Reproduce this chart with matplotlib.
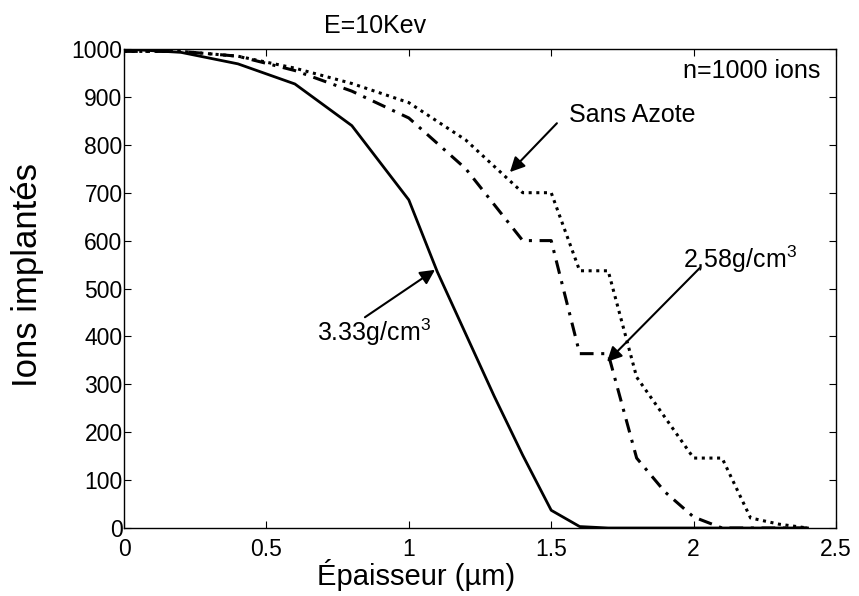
import matplotlib
matplotlib.use("Agg")
import matplotlib.pyplot as plt

plt.rcParams["font.family"] = ["Liberation Sans", "DejaVu Sans"]
plt.rcParams["mathtext.fontset"] = "custom"
plt.rcParams["mathtext.rm"] = "Liberation Sans"
plt.rcParams["mathtext.default"] = "regular"

# -----------------------------
# Data
# -----------------------------
x_333 = [0, 0.2, 0.4, 0.6, 0.8, 1.0, 1.1, 1.2, 1.3, 1.4, 1.5, 1.6, 1.7, 1.8, 2.0, 2.2, 2.4]
y_333 = [1000, 993, 969, 927, 840, 685, 535, 405, 275, 152, 37, 3, 0, 0, 0, 0, 0]

x_sans = [0, 0.2, 0.4, 0.6, 0.8, 1.0, 1.2, 1.4, 1.5, 1.6, 1.7, 1.8, 2.0, 2.1, 2.2, 2.3, 2.4]
y_sans = [995, 995, 985, 960, 928, 888, 810, 700, 700, 537, 537, 315, 146, 146, 21, 8, 0]

x_258 = [0, 0.2, 0.4, 0.6, 0.8, 1.0, 1.2, 1.4, 1.5, 1.6, 1.7, 1.8, 1.9, 2.0, 2.1, 2.2, 2.4]
y_258 = [995, 995, 985, 955, 912, 856, 750, 600, 600, 364, 364, 146, 75, 23, 0, 0, 0]

x_ticks = [0, 0.5, 1, 1.5, 2, 2.5]
x_tick_labels = ["0", "0.5", "1", "1.5", "2", "2.5"]
y_ticks = list(range(0, 1001, 100))

# -----------------------------
# Figure
# -----------------------------
fig = plt.figure(figsize=(8.59, 5.96), dpi=100)
ax = fig.add_axes([124 / 859, 68 / 596, 712 / 859, 479 / 596])

ax.plot(x_333, y_333, color="black", linestyle="-", linewidth=2.0)
ax.plot(x_258, y_258, color="black", linestyle=(0, (4.5, 2.5, 1, 2.5)), linewidth=2.2)
ax.plot(x_sans, y_sans, color="black", linestyle=(0, (1, 1.5)), linewidth=2.2)

ax.set_xlim(0, 2.5)
ax.set_ylim(0, 1000)
ax.set_xticks(x_ticks)
ax.set_xticklabels(x_tick_labels)
ax.set_yticks(y_ticks)
ax.tick_params(direction="in", top=True, right=True, length=5, width=0.8,
               labelsize=16.5)
ax.tick_params(axis="y", pad=1)
ax.tick_params(axis="x", pad=7)
for spine in ax.spines.values():
    spine.set_linewidth(1.0)

fig.text(28 / 859, 1 - 275 / 596, "Ions implantés", rotation=90,
         ha="center", va="center", fontsize=25)
fig.text(416 / 859, 1 - 575 / 596, "Épaisseur (µm)",
         ha="center", va="center", fontsize=21)
ax.text(0.881, 1048, "E=10Kev", ha="center", va="center", fontsize=18,
        clip_on=False)
ax.text(2.444, 954, "n=1000 ions", ha="right", va="center", fontsize=18)

arrow = dict(arrowstyle="-|>", color="black", linewidth=1.5,
             mutation_scale=22, shrinkA=0, shrinkB=0)

ax.annotate("", xy=(1.355, 743), xytext=(1.520, 845), arrowprops=arrow)
ax.text(1.563, 862, "Sans Azote", ha="left", va="center", fontsize=18)

ax.annotate("", xy=(1.696, 347), xytext=(2.022, 543), arrowprops=arrow)
ax.text(1.963, 562, "2,58g/cm$^{3}$", ha="left", va="center", fontsize=18)

ax.annotate("", xy=(1.092, 539), xytext=(0.846, 440), arrowprops=arrow)
ax.text(0.678, 409, "3.33g/cm$^{3}$", ha="left", va="center", fontsize=18)

fig.savefig("out.png", dpi=100)
